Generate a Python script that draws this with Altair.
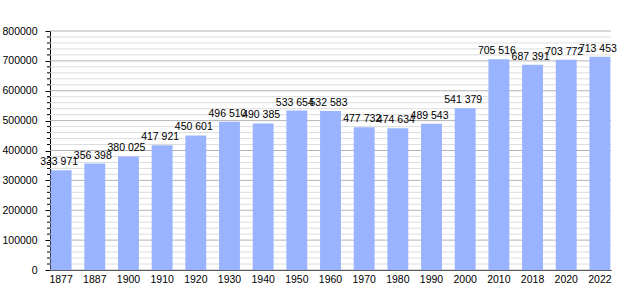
import altair as alt
import pandas as pd

years = ["1877", "1887", "1900", "1910", "1920", "1930", "1940", "1950", "1960",
         "1970", "1980", "1990", "2000", "2010", "2018", "2020", "2022"]
population = [333971, 356398, 380025, 417921, 450601, 496510, 490385, 533654, 532583,
              477732, 474634, 489543, 541379, 705516, 687391, 703772, 713453]
labels = ["333 971", "356 398", "380 025", "417 921", "450 601", "496 510", "490 385",
          "533 654", "532 583", "477 732", "474 634", "489 543", "541 379", "705 516",
          "687 391", "703 772", "713 453"]
major_ticks = list(range(0, 800001, 100000))
minor_ticks = [v for v in range(0, 800001, 20000) if v % 100000 != 0]

df = pd.DataFrame({"year": years, "pop": population, "label": labels})
grid_minor = pd.DataFrame({"v": minor_ticks})
grid_major = pd.DataFrame({"v": major_ticks})

FONT = "Liberation Sans"
yscale = alt.Scale(domain=[0, 800000], nice=False, zero=True)
xscale = alt.Scale(paddingInner=0.38, paddingOuter=0.02)
yaxis = alt.Axis(title=None, values=major_ticks, format="d", grid=False,
                 domainColor="#000000", tickColor="#000000", tickSize=5,
                 labelFont=FONT, labelFontSize=10.5, labelColor="#000000",
                 labelPadding=8)
xaxis = alt.Axis(title=None, labelAngle=0, ticks=False, domainColor="#000000",
                 labelFont=FONT, labelFontSize=10.5, labelColor="#000000",
                 labelPadding=4, grid=False)

minor = alt.Chart(grid_minor).mark_rule(color="#dddddd", strokeWidth=1).encode(
    y=alt.Y("v:Q", scale=yscale, axis=yaxis)
)
major = alt.Chart(grid_major).mark_rule(color="#b4b4b4", strokeWidth=1).encode(
    y=alt.Y("v:Q", scale=yscale, axis=yaxis)
)
minor_tick_marks = alt.Chart(grid_minor).mark_rule(color="#000000", strokeWidth=1).encode(
    y=alt.Y("v:Q", scale=yscale, axis=yaxis),
    x=alt.value(-3), x2=alt.value(0)
)

bars = alt.Chart(df).mark_bar(color="#99b3ff").encode(
    x=alt.X("year:N", sort=years, scale=xscale, axis=xaxis),
    y=alt.Y("pop:Q", scale=yscale, axis=yaxis)
)

text = alt.Chart(df).mark_text(font=FONT, fontSize=10.5, color="#000000",
                               baseline="bottom", dy=-3, dx=-2).encode(
    x=alt.X("year:N", sort=years, scale=xscale, axis=xaxis),
    y=alt.Y("pop:Q", scale=yscale, axis=yaxis),
    text="label:N"
)

chart = alt.layer(minor, major, bars, minor_tick_marks, text).properties(
    width=561, height=239,
    autosize=alt.AutoSizeParams(type="none"),
    padding={"left": 50, "top": 31, "right": 29, "bottom": 30},
    background="#ffffff"
).configure_view(stroke=None)

chart.save("out.html", embed_options={"renderer": "svg", "actions": False})
